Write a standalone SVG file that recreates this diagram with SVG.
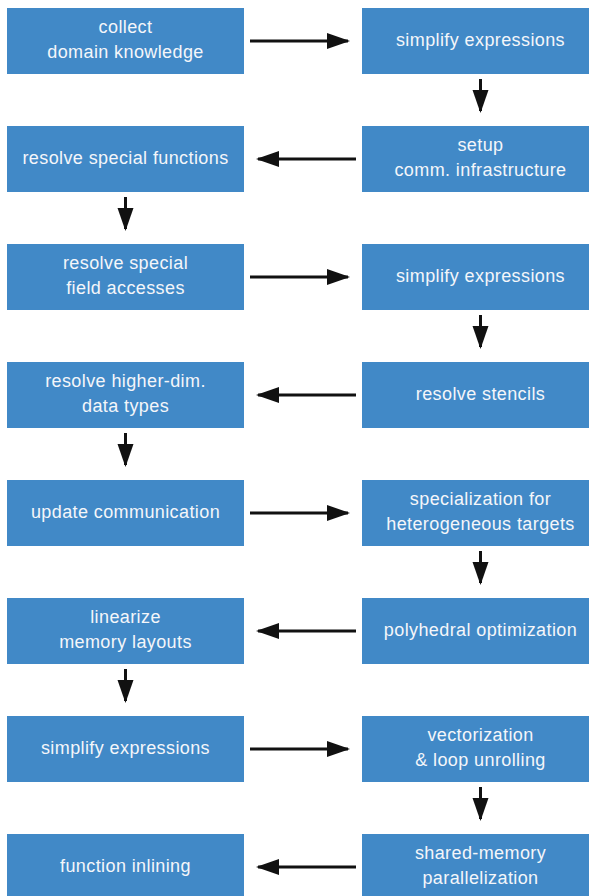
<svg xmlns="http://www.w3.org/2000/svg" width="589" height="896" viewBox="0 0 589 896">
<style>
.box{fill:#4189c7}
.t{fill:#f4f6fa;font-family:"Liberation Sans",Arial,sans-serif;font-size:18px;letter-spacing:0.4px;text-anchor:middle}
.c{stroke:#111;stroke-width:3;fill:none}
</style>
<defs>
<marker id="ah" markerUnits="userSpaceOnUse" markerWidth="24" markerHeight="18" refX="21" refY="8" orient="auto" viewBox="0 0 24 16">
<path d="M0,0 L23,8 L0,16 Z" fill="#111"/>
</marker>
</defs>
<rect width="589" height="896" fill="#fff"/>
<g id="n1"><rect class="box" x="7" y="8" width="237" height="66"/><text class="t" x="125.5" y="33">collect</text><text class="t" x="125.5" y="58">domain knowledge</text></g>
<g id="n2"><rect class="box" x="362" y="8" width="237" height="66"/><text class="t" x="480.5" y="46">simplify expressions</text></g>
<g id="n3"><rect class="box" x="362" y="126" width="237" height="66"/><text class="t" x="480.5" y="151">setup</text><text class="t" x="480.5" y="176">comm. infrastructure</text></g>
<g id="n4"><rect class="box" x="7" y="126" width="237" height="66"/><text class="t" x="125.5" y="164">resolve special functions</text></g>
<g id="n5"><rect class="box" x="7" y="244" width="237" height="66"/><text class="t" x="125.5" y="269">resolve special</text><text class="t" x="125.5" y="294">field accesses</text></g>
<g id="n6"><rect class="box" x="362" y="244" width="237" height="66"/><text class="t" x="480.5" y="282">simplify expressions</text></g>
<g id="n7"><rect class="box" x="362" y="362" width="237" height="66"/><text class="t" x="480.5" y="400">resolve stencils</text></g>
<g id="n8"><rect class="box" x="7" y="362" width="237" height="66"/><text class="t" x="125.5" y="387">resolve higher-dim.</text><text class="t" x="125.5" y="412">data types</text></g>
<g id="n9"><rect class="box" x="7" y="480" width="237" height="66"/><text class="t" x="125.5" y="518">update communication</text></g>
<g id="n10"><rect class="box" x="362" y="480" width="237" height="66"/><text class="t" x="480.5" y="505">specialization for</text><text class="t" x="480.5" y="530">heterogeneous targets</text></g>
<g id="n11"><rect class="box" x="362" y="598" width="237" height="66"/><text class="t" x="480.5" y="636">polyhedral optimization</text></g>
<g id="n12"><rect class="box" x="7" y="598" width="237" height="66"/><text class="t" x="125.5" y="623">linearize</text><text class="t" x="125.5" y="648">memory layouts</text></g>
<g id="n13"><rect class="box" x="7" y="716" width="237" height="66"/><text class="t" x="125.5" y="754">simplify expressions</text></g>
<g id="n14"><rect class="box" x="362" y="716" width="237" height="66"/><text class="t" x="480.5" y="741">vectorization</text><text class="t" x="480.5" y="766">&amp; loop unrolling</text></g>
<g id="n15"><rect class="box" x="362" y="834" width="237" height="66"/><text class="t" x="480.5" y="859">shared-memory</text><text class="t" x="480.5" y="884">parallelization</text></g>
<g id="n16"><rect class="box" x="7" y="834" width="237" height="66"/><text class="t" x="125.5" y="872">function inlining</text></g>
<g id="connectors">
<path class="c" d="M250,41 H348" marker-end="url(#ah)"/>
<path class="c" d="M480.5,79 V111" marker-end="url(#ah)"/>
<path class="c" d="M356,159 H258" marker-end="url(#ah)"/>
<path class="c" d="M125.5,197 V229" marker-end="url(#ah)"/>
<path class="c" d="M250,277 H348" marker-end="url(#ah)"/>
<path class="c" d="M480.5,315 V347" marker-end="url(#ah)"/>
<path class="c" d="M356,395 H258" marker-end="url(#ah)"/>
<path class="c" d="M125.5,433 V465" marker-end="url(#ah)"/>
<path class="c" d="M250,513 H348" marker-end="url(#ah)"/>
<path class="c" d="M480.5,551 V583" marker-end="url(#ah)"/>
<path class="c" d="M356,631 H258" marker-end="url(#ah)"/>
<path class="c" d="M125.5,669 V701" marker-end="url(#ah)"/>
<path class="c" d="M250,749 H348" marker-end="url(#ah)"/>
<path class="c" d="M480.5,787 V819" marker-end="url(#ah)"/>
<path class="c" d="M356,867 H258" marker-end="url(#ah)"/>
</g>
</svg>
